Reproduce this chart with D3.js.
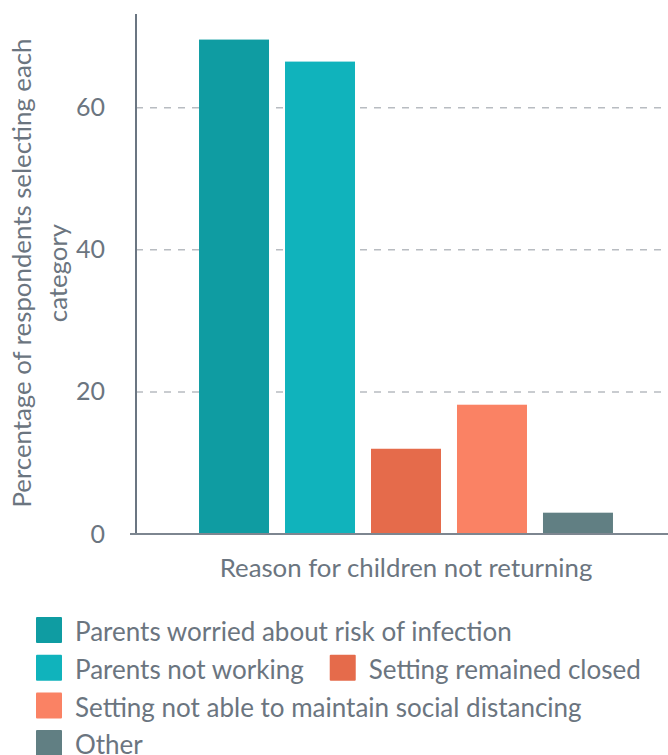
<!doctype html>
<html>
  <head>
    <script src="https://d3js.org/d3.v7.min.js"></script>
    <style>
      body { margin: 0; background: #fff; }
      text { font-family: Lato, sans-serif; fill: #6b7580; }
    </style>
  </head>
  <body>
    <script>
    var categories = ["Parents worried about risk of infection", "Parents not working",
                      "Setting remained closed", "Setting not able to maintain social distancing", "Other"];
    var values = [69.6, 66.5, 12.0, 18.2, 3.0];
    var colors = ["#0f9ca2", "#10b3bc", "#e56b4b", "#fa8264", "#617f83"];
    var yTicks = [0, 20, 40, 60];

    var width = 668, height = 755;
    var svg = d3.select("body").append("svg")
      .attr("width", width).attr("height", height);

    var x = d3.scaleBand().domain(categories).range([136, 676])
      .paddingInner(16 / 86).paddingOuter(0.733);
    var y = d3.scaleLinear().domain([0, 73.2]).range([534, 14]);

    // gridlines
    svg.append("g").selectAll("line").data(yTicks.filter(function(d) { return d > 0; }))
      .enter().append("line")
      .attr("x1", 136).attr("x2", width)
      .attr("y1", function(d) { return y(d); }).attr("y2", function(d) { return y(d); })
      .attr("stroke", "#b8bcc1").attr("stroke-width", 1.5)
      .attr("stroke-dasharray", "7,7");

    // bars
    svg.append("g").selectAll("rect").data(categories).enter().append("rect")
      .attr("x", function(d) { return x(d); })
      .attr("width", x.bandwidth())
      .attr("y", function(d, i) { return y(values[i]); })
      .attr("height", function(d, i) { return y(0) - y(values[i]); })
      .attr("fill", function(d, i) { return colors[i]; });

    // y axis
    var yAxis = svg.append("g").attr("transform", "translate(136,0)")
      .call(d3.axisLeft(y).tickValues(yTicks).tickSize(0).tickPadding(31));
    yAxis.select(".domain").remove();
    yAxis.selectAll("text").style("font-size", "25px").attr("font-family", null);
    svg.append("line").attr("x1", 136).attr("x2", 136).attr("y1", 14).attr("y2", 535)
      .attr("stroke", "#6b7682").attr("stroke-width", 2);

    // baseline
    svg.append("line").attr("x1", 130).attr("x2", width).attr("y1", y(0)).attr("y2", y(0))
      .attr("stroke", "#7d8690").attr("stroke-width", 2);

    // axis titles
    svg.append("text").attr("x", 406).attr("y", 577).attr("text-anchor", "middle")
      .style("font-size", "25.8px").text("Reason for children not returning");

    var yt = svg.append("text").attr("transform", "translate(22,273) rotate(-90)")
      .attr("text-anchor", "middle").style("font-size", "25.8px");
    yt.append("tspan").attr("x", 0).attr("dy", "0.35em").text("Percentage of respondents selecting each");
    yt.append("tspan").attr("x", 0).attr("dy", "1.4em").text("category");

    // legend (flow layout)
    var lx = 36, ly = 630, rowH = 37.7, maxX = 645;
    categories.forEach(function(c, i) {
      var g = svg.append("g");
      g.append("rect").attr("width", 26).attr("height", 26).attr("y", -13).attr("rx", 1)
        .attr("fill", colors[i]);
      var t = g.append("text").attr("x", 39).attr("y", 2).attr("dy", "0.35em")
        .style("font-size", "26px").text(c);
      var w = 39 + t.node().getComputedTextLength();
      if (lx > 36 && lx + w > maxX) { lx = 36; ly += rowH; }
      g.attr("transform", "translate(" + lx + "," + ly + ")");
      lx += w + 26;
    });
    </script>
  </body>
</html>
